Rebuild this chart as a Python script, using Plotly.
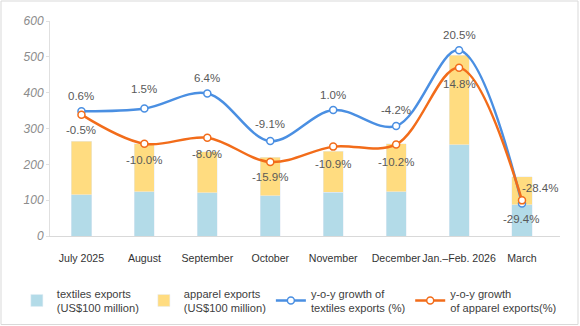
import plotly.graph_objects as go

categories = ["July 2025", "August", "September", "October", "November",
              "December", "Jan.–Feb. 2026", "March"]
textiles = [115, 124, 121, 112, 122, 124, 254, 87]
apparel = [150, 133, 114, 108, 115, 133, 251, 79]
textiles_yoy = [0.6, 1.5, 6.4, -9.1, 1.0, -4.2, 20.5, -29.4]
apparel_yoy = [-0.5, -10.0, -8.0, -15.9, -10.9, -10.2, 14.8, -28.4]
y_ticks = [0, 100, 200, 300, 400, 500, 600]

BLUE = "#4a8fe2"
ORANGE = "#f26c1a"
LABEL_FONT = dict(family="Arial", size=11.5, color="#595959")

fig = go.Figure()
fig.add_trace(go.Bar(x=categories, y=textiles, name="textiles exports<br>(US$100 million)",
                     marker_color="#b3dbe8", width=0.32))
fig.add_trace(go.Bar(x=categories, y=apparel, name="apparel exports<br>(US$100 million)",
                     marker_color="#ffdc80", width=0.32))
fig.add_trace(go.Scatter(x=categories, y=textiles_yoy, yaxis="y2", mode="lines+markers",
                         name="y-o-y growth of<br>textiles exports (%)",
                         line=dict(color=BLUE, width=2.5, shape="spline", smoothing=1.0),
                         marker=dict(size=7, color="white", line=dict(color=BLUE, width=1.5))))
fig.add_trace(go.Scatter(x=categories, y=apparel_yoy, yaxis="y2", mode="lines+markers",
                         name="y-o-y growth<br>of apparel exports(%)",
                         line=dict(color=ORANGE, width=2.5, shape="spline", smoothing=1.0),
                         marker=dict(size=7, color="white", line=dict(color=ORANGE, width=1.5))))

# label offsets (pixels) — styling only
blue_off = [(0, 15), (0, 20), (0, 15), (0, 17), (0, 15), (0, 16), (0, 15), (-1, -16)]
orange_off = [(0, -15), (0, -16), (0, -16), (0, -15), (0, -17), (0, -18), (0, -16), (18, 12)]

for i, c in enumerate(categories):
    fig.add_annotation(x=c, y=textiles_yoy[i], yref="y2", text=f"{textiles_yoy[i]:.1f}%",
                       showarrow=False, font=LABEL_FONT,
                       xshift=blue_off[i][0], yshift=blue_off[i][1])
    fig.add_annotation(x=c, y=apparel_yoy[i], yref="y2", text=f"{apparel_yoy[i]:.1f}%",
                       showarrow=False, font=LABEL_FONT,
                       xshift=orange_off[i][0], yshift=orange_off[i][1])

# outer border
L, R, T, B = 50, 20, 21, 90
W, H = 580, 326
pw, ph = W - L - R, H - T - B
fig.add_shape(type="rect", xref="paper", yref="paper",
              x0=(1 - L) / pw, x1=(W - 2 - L) / pw,
              y0=(H - B - (H - 1.5)) / ph, y1=(H - B - 1) / ph,
              line=dict(color="#d9d9d9", width=1))

fig.update_layout(
    width=W, height=H,
    margin=dict(l=L, r=R, t=T, b=B, autoexpand=False),
    barmode="stack",
    plot_bgcolor="white", paper_bgcolor="white",
    font=dict(family="Arial", color="#404040"),
    xaxis=dict(showline=True, linecolor="#d9d9d9", linewidth=1, ticks="",
               tickangle=0, ticklabelstandoff=12,
               tickfont=dict(size=10.6, color="#333333"), showgrid=False),
    yaxis=dict(range=[0, 600], tickvals=y_ticks, showgrid=False, showline=True,
               linecolor="#e0e0e0", ticks="outside", ticklen=3, tickcolor="#e0e0e0",
               tickfont=dict(size=12, color="#8c8c8c", family="Arial"),
               zeroline=False),
    yaxis2=dict(range=[-40, 30], overlaying="y", visible=False),
    showlegend=True,
    legend=dict(orientation="h", x=-0.065, xanchor="left", y=-0.30, yanchor="middle",
                font=dict(size=11.1, color="#404040"), traceorder="normal",
                bgcolor="rgba(0,0,0,0)"),
)

fig.update_yaxes(ticktext=[f"<i>{v}</i>" for v in y_ticks])

fig.write_html("out.html")
